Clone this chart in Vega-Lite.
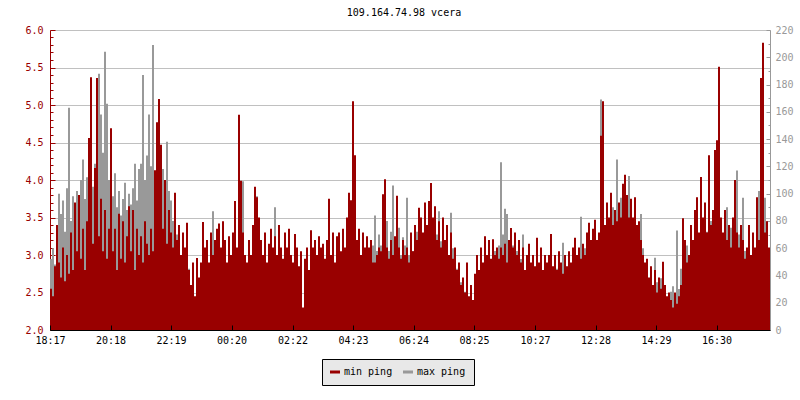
{
"$schema": "https://vega.github.io/schema/vega-lite/v6.json",
"width": 720, "height": 300,
"autosize": "none",
"padding": {"left": 50, "top": 30, "right": 30, "bottom": 70},
"background": "white",
"title": {"text": "109.164.74.98 vcera", "font": "DejaVu Sans Mono", "fontSize": 10, "fontWeight": "normal", "color": "black", "offset": 7, "dx": -6},
"data": {"values": [
{"m":0,"r":2.55,"g":52},{"m":4,"r":2.45,"g":60},{"m":8,"r":2.85,"g":48},{"m":12,"r":3.4,"g":66},{"m":16,"r":2.9,"g":100},{"m":20,"r":2.7,"g":85},{"m":24,"r":3.1,"g":95},{"m":28,"r":2.65,"g":72},{"m":32,"r":3.0,"g":104},{"m":36,"r":2.75,"g":163},
{"m":40,"r":3.3,"g":80},{"m":44,"r":2.8,"g":98},{"m":48,"r":3.7,"g":70},{"m":52,"r":3.05,"g":102},{"m":56,"r":3.8,"g":88},{"m":60,"r":2.95,"g":110},{"m":64,"r":3.35,"g":125},{"m":68,"r":2.8,"g":96},{"m":72,"r":3.45,"g":112},{"m":76,"r":4.56,"g":92},
{"m":80,"r":5.37,"g":133},{"m":84,"r":3.15,"g":105},{"m":88,"r":4.16,"g":122},{"m":92,"r":5.36,"g":100},{"m":96,"r":3.25,"g":188},{"m":100,"r":3.75,"g":158},{"m":104,"r":3.05,"g":130},{"m":108,"r":3.6,"g":204},{"m":112,"r":2.95,"g":166},{"m":116,"r":3.35,"g":110},
{"m":120,"r":4.69,"g":117},{"m":124,"r":3.05,"g":98},{"m":128,"r":3.35,"g":115},{"m":132,"r":2.8,"g":90},{"m":136,"r":3.55,"g":102},{"m":140,"r":2.95,"g":84},{"m":144,"r":3.45,"g":96},{"m":148,"r":2.9,"g":108},{"m":152,"r":3.25,"g":88},{"m":156,"r":3.65,"g":100},
{"m":160,"r":3.05,"g":92},{"m":164,"r":3.6,"g":104},{"m":168,"r":2.8,"g":122},{"m":172,"r":3.35,"g":95},{"m":176,"r":3.0,"g":118},{"m":180,"r":3.25,"g":122},{"m":184,"r":2.9,"g":187},{"m":188,"r":3.45,"g":110},{"m":192,"r":3.15,"g":128},{"m":196,"r":3.0,"g":158},
{"m":200,"r":3.35,"g":120},{"m":204,"r":3.05,"g":209},{"m":208,"r":4.13,"g":112},{"m":212,"r":4.77,"g":105},{"m":216,"r":5.08,"g":130},{"m":220,"r":4.47,"g":115},{"m":224,"r":3.35,"g":118},{"m":228,"r":4.0,"g":96},{"m":232,"r":3.15,"g":138},{"m":236,"r":3.6,"g":102},
{"m":240,"r":3.3,"g":95},{"m":244,"r":3.1,"g":80},{"m":248,"r":3.83,"g":88},{"m":252,"r":3.2,"g":70},{"m":256,"r":3.4,"g":62},{"m":260,"r":3.0,"g":55},{"m":264,"r":3.3,"g":50},{"m":268,"r":3.1,"g":58},{"m":272,"r":3.43,"g":40},{"m":276,"r":2.8,"g":45},
{"m":280,"r":2.6,"g":30},{"m":284,"r":2.9,"g":36},{"m":288,"r":2.45,"g":22},{"m":292,"r":2.96,"g":28},{"m":296,"r":2.7,"g":18},{"m":300,"r":2.9,"g":32},{"m":304,"r":3.44,"g":25},{"m":308,"r":3.1,"g":40},{"m":312,"r":3.2,"g":30},{"m":316,"r":2.9,"g":45},
{"m":320,"r":3.3,"g":35},{"m":324,"r":3.0,"g":87},{"m":328,"r":3.2,"g":38},{"m":332,"r":3.35,"g":30},{"m":336,"r":3.42,"g":42},{"m":340,"r":3.1,"g":28},{"m":344,"r":3.45,"g":35},{"m":348,"r":3.2,"g":48},{"m":352,"r":2.9,"g":30},{"m":356,"r":3.25,"g":40},
{"m":360,"r":3.0,"g":24},{"m":364,"r":3.3,"g":45},{"m":368,"r":3.72,"g":38},{"m":372,"r":3.1,"g":55},{"m":376,"r":4.87,"g":48},{"m":380,"r":3.99,"g":62},{"m":384,"r":3.3,"g":109},{"m":388,"r":3.0,"g":50},{"m":392,"r":2.9,"g":40},{"m":396,"r":3.2,"g":35},
{"m":400,"r":3.0,"g":28},{"m":404,"r":3.4,"g":45},{"m":408,"r":3.91,"g":38},{"m":412,"r":3.77,"g":98},{"m":416,"r":3.5,"g":60},{"m":420,"r":3.2,"g":42},{"m":424,"r":3.0,"g":30},{"m":428,"r":3.3,"g":38},{"m":432,"r":2.9,"g":25},{"m":436,"r":3.15,"g":35},
{"m":440,"r":3.35,"g":28},{"m":444,"r":3.1,"g":40},{"m":448,"r":3.25,"g":90},{"m":452,"r":3.0,"g":32},{"m":456,"r":3.4,"g":26},{"m":460,"r":3.1,"g":38},{"m":464,"r":2.95,"g":30},{"m":468,"r":3.3,"g":42},{"m":472,"r":3.1,"g":28},{"m":476,"r":3.35,"g":35},
{"m":480,"r":3.0,"g":25},{"m":484,"r":2.9,"g":30},{"m":488,"r":3.28,"g":22},{"m":492,"r":3.1,"g":28},{"m":496,"r":2.85,"g":20},{"m":500,"r":3.05,"g":30},{"m":504,"r":2.3,"g":15},{"m":508,"r":2.95,"g":24},{"m":512,"r":3.1,"g":30},{"m":516,"r":2.8,"g":22},
{"m":520,"r":3.33,"g":28},{"m":524,"r":3.1,"g":35},{"m":528,"r":3.2,"g":25},{"m":532,"r":3.0,"g":30},{"m":536,"r":3.25,"g":38},{"m":540,"r":3.1,"g":26},{"m":544,"r":3.15,"g":30},{"m":548,"r":2.95,"g":45},{"m":552,"r":3.2,"g":32},{"m":556,"r":3.75,"g":28},
{"m":560,"r":3.0,"g":35},{"m":564,"r":3.3,"g":30},{"m":568,"r":2.9,"g":40},{"m":572,"r":3.25,"g":28},{"m":576,"r":3.3,"g":36},{"m":580,"r":3.05,"g":30},{"m":584,"r":3.35,"g":42},{"m":588,"r":3.1,"g":35},{"m":592,"r":3.5,"g":45},{"m":596,"r":3.83,"g":38},
{"m":600,"r":3.73,"g":51},{"m":604,"r":5.05,"g":48},{"m":608,"r":4.33,"g":40},{"m":612,"r":3.2,"g":45},{"m":616,"r":3.35,"g":38},{"m":620,"r":3.0,"g":50},{"m":624,"r":3.3,"g":42},{"m":628,"r":3.1,"g":48},{"m":632,"r":3.25,"g":40},{"m":636,"r":3.1,"g":55},
{"m":640,"r":3.2,"g":45},{"m":644,"r":2.9,"g":62},{"m":648,"r":2.9,"g":84},{"m":652,"r":3.0,"g":58},{"m":656,"r":3.1,"g":70},{"m":660,"r":3.05,"g":62},{"m":664,"r":3.81,"g":75},{"m":668,"r":4.01,"g":66},{"m":672,"r":3.1,"g":80},{"m":676,"r":2.95,"g":58},
{"m":680,"r":3.2,"g":72},{"m":684,"r":3.0,"g":106},{"m":688,"r":3.25,"g":68},{"m":692,"r":3.79,"g":60},{"m":696,"r":3.1,"g":75},{"m":700,"r":2.95,"g":55},{"m":704,"r":3.2,"g":68},{"m":708,"r":3.0,"g":62},{"m":712,"r":3.1,"g":97},{"m":716,"r":2.9,"g":55},
{"m":720,"r":3.3,"g":70},{"m":724,"r":3.05,"g":58},{"m":728,"r":3.4,"g":66},{"m":732,"r":3.2,"g":72},{"m":736,"r":3.63,"g":60},{"m":740,"r":3.5,"g":79},{"m":744,"r":3.3,"g":60},{"m":748,"r":3.7,"g":55},{"m":752,"r":3.4,"g":50},{"m":756,"r":3.72,"g":62},
{"m":760,"r":3.96,"g":48},{"m":764,"r":3.5,"g":58},{"m":768,"r":3.65,"g":45},{"m":772,"r":3.2,"g":70},{"m":776,"r":3.45,"g":87},{"m":780,"r":3.1,"g":65},{"m":784,"r":3.5,"g":55},{"m":788,"r":3.2,"g":50},{"m":792,"r":3.4,"g":58},{"m":796,"r":3.0,"g":45},
{"m":800,"r":3.3,"g":86},{"m":804,"r":2.95,"g":60},{"m":808,"r":3.1,"g":40},{"m":812,"r":2.8,"g":45},{"m":816,"r":2.9,"g":30},{"m":820,"r":2.6,"g":35},{"m":824,"r":2.7,"g":24},{"m":828,"r":2.5,"g":28},{"m":832,"r":2.9,"g":20},{"m":836,"r":2.45,"g":22},
{"m":840,"r":2.6,"g":15},{"m":844,"r":2.4,"g":18},{"m":848,"r":2.75,"g":25},{"m":852,"r":3.0,"g":32},{"m":856,"r":2.8,"g":38},{"m":860,"r":3.1,"g":30},{"m":864,"r":2.9,"g":42},{"m":868,"r":3.25,"g":35},{"m":872,"r":3.0,"g":48},{"m":876,"r":3.2,"g":40},
{"m":880,"r":2.95,"g":52},{"m":884,"r":3.21,"g":45},{"m":888,"r":3.0,"g":58},{"m":892,"r":3.1,"g":50},{"m":896,"r":2.95,"g":62},{"m":900,"r":3.1,"g":123},{"m":904,"r":3.0,"g":70},{"m":908,"r":3.15,"g":89},{"m":912,"r":2.9,"g":85},{"m":916,"r":3.2,"g":60},
{"m":920,"r":3.36,"g":55},{"m":924,"r":3.1,"g":62},{"m":928,"r":3.3,"g":50},{"m":932,"r":3.0,"g":58},{"m":936,"r":3.2,"g":45},{"m":940,"r":2.9,"g":52},{"m":944,"r":3.1,"g":70},{"m":948,"r":2.8,"g":40},{"m":952,"r":3.0,"g":45},{"m":956,"r":3.15,"g":35},
{"m":960,"r":2.9,"g":42},{"m":964,"r":3.0,"g":30},{"m":968,"r":2.85,"g":38},{"m":972,"r":3.23,"g":32},{"m":976,"r":2.9,"g":40},{"m":980,"r":3.1,"g":28},{"m":984,"r":2.8,"g":35},{"m":988,"r":3.0,"g":30},{"m":992,"r":2.9,"g":30},{"m":996,"r":3.0,"g":36},
{"m":1000,"r":3.28,"g":25},{"m":1004,"r":2.85,"g":40},{"m":1008,"r":3.0,"g":32},{"m":1012,"r":2.8,"g":45},{"m":1016,"r":3.05,"g":38},{"m":1020,"r":2.9,"g":28},{"m":1024,"r":2.75,"g":64},{"m":1028,"r":3.0,"g":42},{"m":1032,"r":2.85,"g":35},{"m":1036,"r":3.05,"g":48},
{"m":1040,"r":2.9,"g":40},{"m":1044,"r":3.1,"g":52},{"m":1048,"r":3.23,"g":45},{"m":1052,"r":3.0,"g":38},{"m":1056,"r":3.1,"g":55},{"m":1060,"r":2.95,"g":83},{"m":1064,"r":3.15,"g":48},{"m":1068,"r":3.0,"g":60},{"m":1072,"r":3.3,"g":52},{"m":1076,"r":3.43,"g":58},
{"m":1080,"r":3.2,"g":65},{"m":1084,"r":3.35,"g":50},{"m":1088,"r":3.47,"g":62},{"m":1092,"r":3.2,"g":55},{"m":1096,"r":3.3,"g":70},{"m":1100,"r":4.59,"g":169},{"m":1104,"r":5.05,"g":60},{"m":1108,"r":3.4,"g":75},{"m":1112,"r":3.7,"g":68},{"m":1116,"r":3.5,"g":80},
{"m":1120,"r":3.83,"g":72},{"m":1124,"r":3.4,"g":90},{"m":1128,"r":3.6,"g":78},{"m":1132,"r":3.45,"g":125},{"m":1136,"r":3.7,"g":85},{"m":1140,"r":3.5,"g":97},{"m":1144,"r":3.95,"g":80},{"m":1148,"r":4.07,"g":88},{"m":1152,"r":3.8,"g":75},{"m":1156,"r":3.5,"g":113},
{"m":1160,"r":3.75,"g":82},{"m":1164,"r":3.5,"g":70},{"m":1168,"r":3.77,"g":78},{"m":1172,"r":3.4,"g":65},{"m":1176,"r":3.45,"g":72},{"m":1180,"r":3.2,"g":85},{"m":1184,"r":3.0,"g":60},{"m":1188,"r":2.9,"g":45},{"m":1192,"r":2.95,"g":38},{"m":1196,"r":2.7,"g":32},
{"m":1200,"r":2.85,"g":40},{"m":1204,"r":2.6,"g":30},{"m":1208,"r":2.8,"g":53},{"m":1212,"r":2.5,"g":35},{"m":1216,"r":2.7,"g":28},{"m":1220,"r":2.55,"g":38},{"m":1224,"r":2.91,"g":30},{"m":1228,"r":2.6,"g":25},{"m":1232,"r":2.45,"g":22},{"m":1236,"r":2.5,"g":18},
{"m":1240,"r":2.4,"g":28},{"m":1244,"r":2.3,"g":32},{"m":1248,"r":2.5,"g":25},{"m":1252,"r":2.35,"g":73},{"m":1256,"r":2.45,"g":30},{"m":1260,"r":2.6,"g":45},{"m":1264,"r":3.49,"g":38},{"m":1268,"r":3.2,"g":55},{"m":1272,"r":2.9,"g":62},{"m":1276,"r":3.0,"g":50},
{"m":1280,"r":3.4,"g":58},{"m":1284,"r":3.2,"g":65},{"m":1288,"r":3.6,"g":55},{"m":1292,"r":3.77,"g":70},{"m":1296,"r":3.3,"g":62},{"m":1300,"r":4.04,"g":68},{"m":1304,"r":3.5,"g":75},{"m":1308,"r":3.7,"g":60},{"m":1312,"r":3.3,"g":72},{"m":1316,"r":4.33,"g":65},
{"m":1320,"r":3.4,"g":80},{"m":1324,"r":3.6,"g":70},{"m":1328,"r":4.4,"g":90},{"m":1332,"r":4.53,"g":75},{"m":1336,"r":5.51,"g":130},{"m":1340,"r":3.5,"g":82},{"m":1344,"r":3.3,"g":70},{"m":1348,"r":3.6,"g":85},{"m":1352,"r":3.2,"g":90},{"m":1356,"r":3.4,"g":68},
{"m":1360,"r":3.1,"g":75},{"m":1364,"r":3.5,"g":62},{"m":1368,"r":4.0,"g":80},{"m":1372,"r":3.3,"g":117},{"m":1376,"r":3.1,"g":70},{"m":1380,"r":3.4,"g":65},{"m":1384,"r":3.2,"g":97},{"m":1388,"r":2.95,"g":58},{"m":1392,"r":3.1,"g":50},{"m":1396,"r":3.4,"g":62},
{"m":1400,"r":3.0,"g":55},{"m":1404,"r":3.3,"g":70},{"m":1408,"r":3.1,"g":60},{"m":1412,"r":3.77,"g":65},{"m":1416,"r":3.2,"g":102},{"m":1420,"r":5.36,"g":134},{"m":1424,"r":5.83,"g":80},{"m":1428,"r":3.3,"g":97},{"m":1432,"r":3.45,"g":70},{"m":1436,"r":3.1,"g":60},
{"m":1440,"r":3.1,"g":60}
]},
"encoding": {
  "x": {"field": "m", "type": "quantitative", "scale": {"domain": [0, 1440], "nice": false, "zero": false},
    "axis": {"title": null, "grid": false, "zindex": 1,
      "values": [0,121,242,363,485,606,727,848,970,1091,1212,1333],
      "labelExpr": "(floor(((datum.value+1097)%1440)/60)<10?'0':'')+floor(((datum.value+1097)%1440)/60)+':'+(((datum.value+1097)%60)<10?'0':'')+((datum.value+1097)%60)",
      "domainColor": "black", "tickColor": "black", "tickSize": -5, "labelPadding": 10,
      "labelFont": "DejaVu Sans Mono", "labelFontSize": 10, "labelColor": "black", "labelFlush": false, "labelOverlap": false}}
},
"layer": [
  {"mark": {"type": "area", "interpolate": "step-after"},
   "encoding": {
     "y": {"field": "g", "type": "quantitative", "scale": {"domain": [0, 220], "nice": false, "zero": true},
       "axis": {"orient": "right", "title": null, "grid": false,
         "values": [0,10,20,30,40,50,60,70,80,90,100,110,120,130,140,150,160,170,180,190,200,210,220],
         "labelExpr": "datum.value % 20 == 0 ? datum.value : ''",
         "labelColor": "#999999", "tickColor": "#999999", "domainColor": "#999999",
         "tickSize": {"condition": {"test": "datum.value % 20 == 0", "value": -4}, "value": -2},
         "labelPadding": 9, "labelFont": "DejaVu Sans Mono", "labelFontSize": 10, "labelOverlap": false, "labelFlush": false}},
     "y2": {"datum": 0},
     "color": {"datum": "max ping"}
   }},
  {"mark": {"type": "area", "interpolate": "step-after"},
   "encoding": {
     "y": {"field": "r", "type": "quantitative", "scale": {"domain": [2, 6], "nice": false, "zero": false},
       "axis": {"orient": "left", "title": null, "grid": true, "gridColor": "#c0c0c0",
         "gridOpacity": {"condition": {"test": "abs(round(datum.value*10)%5)==0", "value": 1}, "value": 0},
         "values": [2.0,2.1,2.2,2.3,2.4,2.5,2.6,2.7,2.8,2.9,3.0,3.1,3.2,3.3,3.4,3.5,3.6,3.7,3.8,3.9,4.0,4.1,4.2,4.3,4.4,4.5,4.6,4.7,4.8,4.9,5.0,5.1,5.2,5.3,5.4,5.5,5.6,5.7,5.8,5.9,6.0],
         "labelExpr": "abs(round(datum.value*10)%5)==0 ? format(datum.value,'.1f') : ''",
         "labelColor": "#990000", "tickColor": "#990000", "domainColor": "#990000",
         "tickSize": {"condition": {"test": "abs(round(datum.value*10)%5)==0", "value": -5}, "value": -3},
         "labelPadding": 12, "labelFont": "DejaVu Sans Mono", "labelFontSize": 10, "labelOverlap": false, "labelFlush": false}},
     "y2": {"datum": 2},
     "color": {"datum": "min ping", "scale": {"domain": ["min ping", "max ping"], "range": ["#990000", "#999999"]},
       "legend": {"orient": "none", "legendX": 272, "legendY": 329, "direction": "horizontal", "title": null,
         "fillColor": "#e8e8e8", "strokeColor": "black", "padding": 8,
         "labelFont": "DejaVu Sans Mono", "labelFontSize": 10, "labelColor": "black", "labelOffset": 4,
         "symbolType": "M-1,-0.3L1,-0.3L1,0.3L-1,0.3Z", "symbolSize": 100, "symbolStrokeWidth": 0, "columnPadding": 10,
         "encode": {"labels": {"update": {"fill": {"value": "black"}}}}}}
   }}
],
"resolve": {"scale": {"y": "independent"}},
"config": {"view": {"stroke": null}, "axis": {"domainWidth": 1, "tickWidth": 1}}
}
